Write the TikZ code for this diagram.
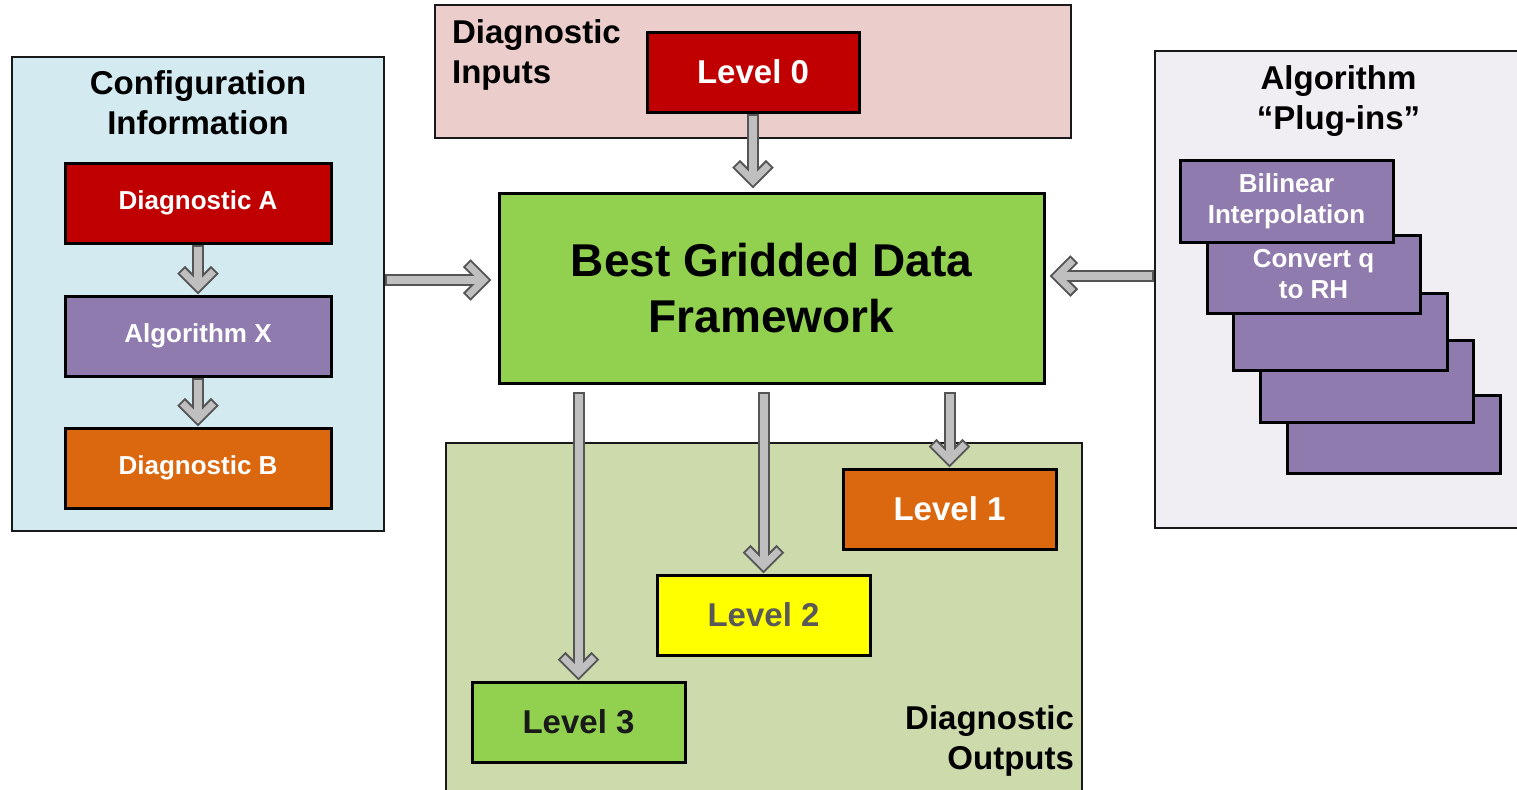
\documentclass[tikz,border=0pt]{standalone}
\usepackage{fontspec}
\setmainfont{Liberation Sans}
\usetikzlibrary{calc}
\definecolor{dred}{HTML}{C00000}
\definecolor{purp}{HTML}{8F7BAD}
\definecolor{orng}{HTML}{DB680E}
\definecolor{lgreen}{HTML}{92D050}
\definecolor{yel}{HTML}{FFFF00}
\definecolor{cfgbg}{HTML}{D3EAF0}
\definecolor{inbg}{HTML}{EBCDCC}
\definecolor{outbg}{HTML}{CDDBAC}
\definecolor{plugbg}{HTML}{F0EEF3}
\definecolor{agray}{HTML}{BFBFBF}
\definecolor{adark}{HTML}{555555}
\definecolor{txtgray}{HTML}{595959}
\tikzset{
  panel/.style={draw=black!90, line width=1.3pt, inner sep=0pt},
  box/.style={draw=black, line width=1.5pt, inner sep=0pt, font=\bfseries\fontsize{16.5}{20}\selectfont},
  smallbox/.style={draw=black, line width=1.5pt, inner sep=0pt, text=white, align=center, font=\bfseries\fontsize{13}{15.5}\selectfont},
  head/.style={inner sep=0pt, font=\bfseries\fontsize{16.5}{20}\selectfont},
  sz/.style 2 args={minimum width=#1*0.5pt, minimum height=#2*0.5pt}
}
\newcommand\garrow[2]{%
  \coordinate (gs) at (#1);
  \coordinate (gt) at (#2);
  \coordinate (gi) at ($(gt)!3.9pt!(gs)$);
  \coordinate (gsb) at ($(gs)!1pt!(gi)$);
  \coordinate (ga) at ($(gi)!12pt!45:(gs)$);
  \coordinate (gb) at ($(gi)!12pt!-45:(gs)$);
  \coordinate (gaa) at ($(gi)!11pt!45:(gs)$);
  \coordinate (gbb) at ($(gi)!11pt!-45:(gs)$);
  \draw[adark, line width=6pt] (gs) -- (gi);
  \draw[adark, line width=5.5pt, line join=miter] (ga) -- (gi) -- (gb);
  \draw[agray, line width=4pt] (gsb) -- (gi);
  \draw[agray, line width=3.5pt, line join=miter] (gaa) -- (gi) -- (gbb);
}
\begin{document}
\begin{tikzpicture}[x=0.5pt, y=-0.5pt]
\useasboundingbox (0,0) rectangle (1517,789);
% panels
\node[panel, fill=cfgbg, sz={372}{474}] (config) at (198,294) {};
\node[panel, fill=inbg, sz={636}{133}] (inputs) at (753,71.5) {};
\node[panel, fill=plugbg, sz={367}{477}] (plugins) at (1338.5,289.5) {};
\node[panel, fill=outbg, sz={636}{352}] (outputs) at (764,619) {};
% panel headings
\node[head, align=center] (cfghead) at ([yshift=-23.5pt]config.north) {Configuration\\Information};
\node[head, align=left, anchor=west] (inhead) at ([xshift=9pt, yshift=-25.5pt]inputs.north west) {Diagnostic\\Inputs};
\node[head, align=center] (plughead) at ([yshift=-25.5pt]plugins.north) {Algorithm\\“Plug-ins”};
\node[head, align=right, anchor=east] (outhead) at ([xshift=-4.5pt, yshift=-149.5pt]outputs.north east) {Diagnostic\\Outputs};
% config boxes
\node[smallbox, fill=dred, sz={266}{80}] (diagA) at (198,203) {Diagnostic A};
\node[smallbox, fill=purp, sz={266}{80}] (algX) at (198,336) {Algorithm X};
\node[smallbox, fill=orng, sz={266}{80}] (diagB) at (198,468) {Diagnostic B};
% level 0
\node[box, fill=dred, text=white, sz={212}{80}] (level0) at (753,72) {Level 0};
% framework
\node[draw=black, line width=1.5pt, fill=lgreen, sz={545}{190}, align=center,
      font=\bfseries\fontsize{23}{28}\selectfont] (frame) at (771.5,288) {Best Gridded Data\\Framework};
% plug-in stack
\node[smallbox, fill=purp, sz={213}{78}] (p5) at (1393.5,434) {};
\node[smallbox, fill=purp, sz={213}{82}] (p4) at (1366.5,381) {};
\node[smallbox, fill=purp, sz={214}{77}] (p3) at (1340,331.5) {};
\node[smallbox, fill=purp, sz={213}{78}] (p2) at (1313.5,274) {Convert q\\to RH};
\node[smallbox, fill=purp, sz={213}{82}] (p1) at (1286.5,201) {Bilinear\\Interpolation};
% outputs
\node[box, fill=orng, text=white, sz={213}{80}] (level1) at (949.5,509) {Level 1};
\node[box, fill=yel, text=txtgray, sz={213}{80}] (level2) at (763.5,615) {Level 2};
\node[box, fill=lgreen, text=black!90, sz={213}{80}] (level3) at (578.5,722) {Level 3};
% arrows
\garrow{diagA.south}{algX.north}
\garrow{algX.south}{diagB.north}
\garrow{[yshift=7pt]config.east}{[xshift=-3pt, yshift=4pt]frame.west}
\garrow{[yshift=6.75pt]plugins.west}{[xshift=2pt, yshift=6pt]frame.east}
\garrow{level0.south}{[yshift=1.5pt]level0.south |- frame.north}
\garrow{[yshift=-3.5pt]level3.north |- frame.south}{level3.north}
\garrow{[yshift=-3.5pt]level2.north |- frame.south}{level2.north}
\garrow{[yshift=-3.5pt]level1.north |- frame.south}{level1.north}
\end{tikzpicture}
\end{document}
